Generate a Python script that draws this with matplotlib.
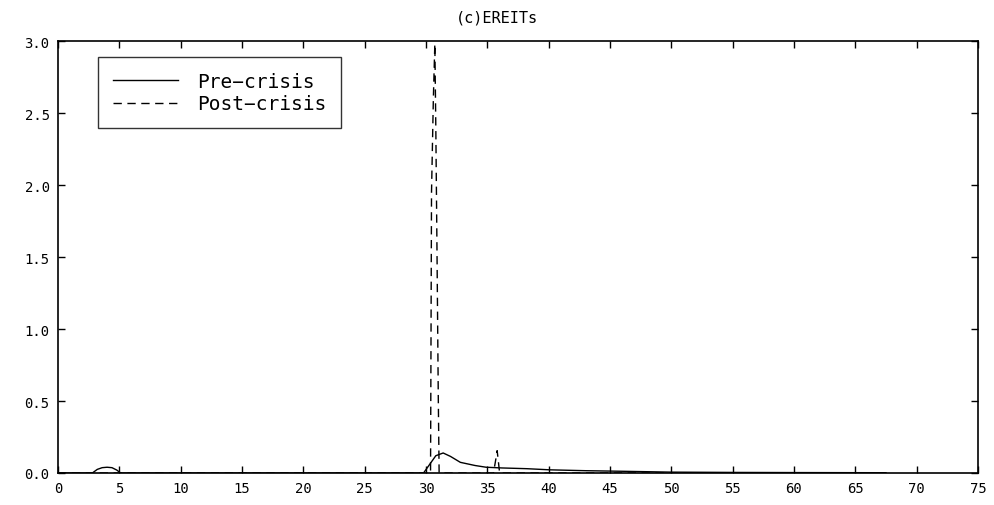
import matplotlib
matplotlib.use('Agg')
import matplotlib.pyplot as plt

# Pre-crisis density
pre_x = [0, 2.8, 3.2, 3.6, 4.0, 4.4, 4.8, 5.1, 29.8, 30.3, 30.8, 31.4, 32.0, 32.8,
         34.0, 34.9, 36.2, 38.2, 40.1, 43.0, 46.0, 48.0, 50.0, 55.0, 60.0, 67.5]
pre_y = [0, 0, 0.025, 0.037, 0.04, 0.037, 0.02, 0, 0, 0.06, 0.12, 0.139, 0.115, 0.074,
         0.052, 0.04, 0.035, 0.03, 0.022, 0.016, 0.012, 0.009, 0.006, 0.004, 0.003, 0.002]

# Post-crisis density
post_x = [0, 30.3, 30.37, 30.45, 30.6, 30.72, 30.8, 30.9, 31.0, 31.07, 31.2,
          35.5, 35.7, 35.8, 35.9, 36.0, 67.5]
post_y = [0, 0, 0.0, 1.95, 2.6, 2.98, 2.4, 1.51, 0.54, 0.0, 0,
          0, 0.1, 0.155, 0.08, 0, 0]

xticks = list(range(0, 80, 5))
yticks = [0.0, 0.5, 1.0, 1.5, 2.0, 2.5, 3.0]

plt.rcParams['font.family'] = 'DejaVu Sans Mono'

fig = plt.figure(figsize=(9.95, 5.06), dpi=100)
ax = fig.add_axes([58 / 995, 32 / 506, 920 / 995, 432 / 506])

ax.plot(pre_x, pre_y, color='black', lw=1.0, label='Pre\u2212crisis')
ax.plot(post_x, post_y, color='black', lw=1.0, linestyle=(0, (6, 4)), label='Post\u2212crisis')

ax.set_xlim(0, 75)
ax.set_ylim(0, 3.0)
ax.set_xticks(xticks)
ax.set_yticks(yticks)
ax.set_yticklabels(['%.1f' % v for v in yticks])
ax.tick_params(direction='in', length=5, width=1, top=True, right=True,
               labelsize=10, colors='black', pad=6)
for s in ax.spines.values():
    s.set_linewidth(1.2)

ax.set_title('(c)EREITs', fontsize=11, x=0.477, pad=14)

leg = ax.legend(loc='upper left', bbox_to_anchor=(40 / 920, 1 - 16 / 432), frameon=True,
                fancybox=False, edgecolor='black', fontsize=14, handlelength=3.35,
                borderpad=0.75, labelspacing=0.2, handletextpad=1.0, borderaxespad=0)
leg.get_frame().set_linewidth(1.0)

plt.savefig('out.png', dpi=100)
